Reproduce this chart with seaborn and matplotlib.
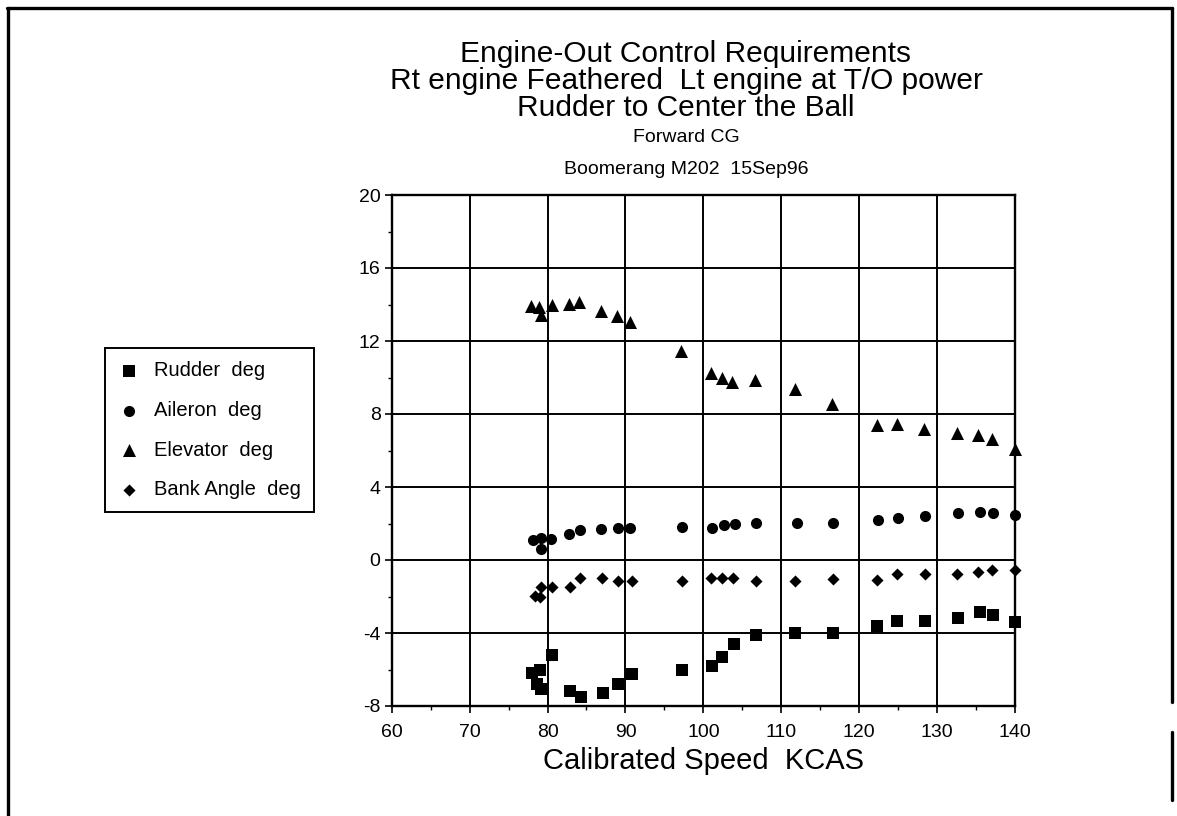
import matplotlib.pyplot as plt
import numpy as np
import pandas as pd
import seaborn as sns
from matplotlib.lines import Line2D
from matplotlib.ticker import MultipleLocator

# values (KCAS, degrees)
rudder_speed = [78.0, 78.6, 79.0, 79.1, 80.6, 82.9, 84.3, 87.1, 89.1, 90.9, 97.3, 101.1,
                102.4, 103.9, 106.7, 111.8, 116.6, 122.3, 124.8, 128.4, 132.7, 135.5, 137.2, 140.0]
rudder_deg = [-6.2, -6.8, -6.0, -7.05, -5.2, -7.2, -7.5, -7.3, -6.8, -6.25, -6.05, -5.8,
              -5.3, -4.6, -4.1, -4.0, -4.0, -3.6, -3.35, -3.35, -3.2, -2.85, -3.0, -3.4]

aileron_speed = [78.1, 79.1, 79.1, 80.5, 82.8, 84.2, 86.9, 89.0, 90.6, 97.2, 101.1, 102.6,
                 104.0, 106.8, 112.0, 116.7, 122.4, 125.0, 128.4, 132.7, 135.5, 137.2, 140.0]
aileron_deg = [1.1, 1.2, 0.6, 1.15, 1.4, 1.65, 1.7, 1.75, 1.75, 1.8, 1.75, 1.9,
               2.0, 2.05, 2.05, 2.05, 2.2, 2.3, 2.4, 2.6, 2.65, 2.55, 2.45]

elevator_speed = [77.9, 78.9, 79.1, 80.6, 82.7, 84.1, 86.9, 88.9, 90.6, 97.1, 101.0, 102.4,
                  103.7, 106.6, 111.8, 116.5, 122.3, 124.8, 128.3, 132.6, 135.2, 137.1, 140.0]
elevator_deg = [13.9, 13.85, 13.45, 13.95, 14.05, 14.15, 13.65, 13.35, 13.05, 11.45, 10.25, 9.95,
                9.75, 9.85, 9.35, 8.55, 7.4, 7.45, 7.2, 6.95, 6.85, 6.65, 6.1]

bank_speed = [78.4, 79.0, 79.1, 80.6, 82.9, 84.2, 87.0, 89.1, 90.8, 97.2, 101.0, 102.4,
              103.8, 106.7, 111.8, 116.6, 122.3, 124.8, 128.4, 132.6, 135.3, 137.1, 140.0]
bank_deg = [-1.95, -2.0, -1.5, -1.5, -1.5, -1.0, -1.0, -1.15, -1.15, -1.15, -1.0, -1.0,
            -1.0, -1.15, -1.15, -1.05, -1.1, -0.75, -0.75, -0.75, -0.65, -0.55, -0.55]

series_names = ["Rudder  deg", "Aileron  deg", "Elevator  deg", "Bank Angle  deg"]

df = pd.concat([
    pd.DataFrame({"speed": rudder_speed, "deg": rudder_deg, "series": series_names[0]}),
    pd.DataFrame({"speed": aileron_speed, "deg": aileron_deg, "series": series_names[1]}),
    pd.DataFrame({"speed": elevator_speed, "deg": elevator_deg, "series": series_names[2]}),
    pd.DataFrame({"speed": bank_speed, "deg": bank_deg, "series": series_names[3]}),
])

sns.set_style("white")
plt.rcParams['font.family'] = ['Liberation Sans', 'DejaVu Sans']
plt.rcParams['text.color'] = 'black'
plt.rcParams['axes.labelcolor'] = 'black'
plt.rcParams['xtick.color'] = 'black'
plt.rcParams['ytick.color'] = 'black'
plt.rcParams['axes.unicode_minus'] = False

fig = plt.figure(figsize=(11.77, 8.16), dpi=100)
ax = fig.add_axes([0.3328, 1 - 706 / 816, 0.5296, (706 - 195) / 816])

markers = {series_names[0]: ('s', 80), series_names[1]: ('o', 64),
           series_names[2]: ('^', 88), series_names[3]: ('D', 38)}

for name in series_names:
    m, s = markers[name]
    sns.scatterplot(data=df[df['series'] == name], x='speed', y='deg', marker=m, s=s,
                    color='black', linewidth=0, ax=ax, label=name, clip_on=False, zorder=3)

ax.set_xlim(60, 140)
ax.set_ylim(-8, 20)
ax.xaxis.set_major_locator(MultipleLocator(10))
ax.xaxis.set_minor_locator(MultipleLocator(5))
ax.yaxis.set_major_locator(MultipleLocator(4))
ax.yaxis.set_minor_locator(MultipleLocator(2))
ax.grid(which='major', color='black', lw=1.4)
ax.tick_params(axis='x', which='major', direction='out', length=5, width=1.2, labelsize=14, pad=8)
ax.tick_params(axis='y', which='major', direction='out', length=5, width=1.2, labelsize=14, pad=3)
ax.tick_params(which='minor', direction='out', length=3, width=1.0)
ax.tick_params(bottom=True, left=True, which='both')
for sp in ax.spines.values():
    sp.set_color('black')
    sp.set_linewidth(1.7)

ax.set_xlabel('Calibrated Speed  KCAS', fontsize=21, labelpad=4)
ax.set_ylabel('')

handles, labels = ax.get_legend_handles_labels()
ax.get_legend().remove()
leg = fig.legend(handles, labels, loc='upper left', bbox_to_anchor=(105 / 1177, 1 - 348 / 816),
                 bbox_transform=fig.transFigure, borderaxespad=0, frameon=True, fancybox=False,
                 edgecolor='black', framealpha=1, fontsize=14.5, borderpad=0.65, labelspacing=1.03,
                 handlelength=1.1, handletextpad=0.7, scatterpoints=1)
leg.get_frame().set_linewidth(1.4)

# titles
tx = 686 / 1177
fig.text(tx, 1 - 54 / 816, 'Engine-Out Control Requirements', ha='center', va='center', fontsize=21.5)
fig.text(tx, 1 - 81 / 816, 'Rt engine Feathered  Lt engine at T/O power', ha='center', va='center', fontsize=21.5)
fig.text(tx, 1 - 108 / 816, 'Rudder to Center the Ball', ha='center', va='center', fontsize=21.5)
fig.text(tx, 1 - 137 / 816, 'Forward CG', ha='center', va='center', fontsize=14)
fig.text(tx, 1 - 169 / 816, 'Boomerang M202  15Sep96', ha='center', va='center', fontsize=14)

# page border
W, H = 1177, 816
border = [((7, 8), (1172, 8)), ((8, 8), (8, 816)), ((1172, 8), (1172, 702)), ((1172, 732), (1172, 800))]
for (x0, y0), (x1, y1) in border:
    fig.add_artist(Line2D([x0 / W, x1 / W], [1 - y0 / H, 1 - y1 / H], transform=fig.transFigure,
                          color='black', lw=2.4))

fig.savefig('out.png', dpi=100)
plt.close()
